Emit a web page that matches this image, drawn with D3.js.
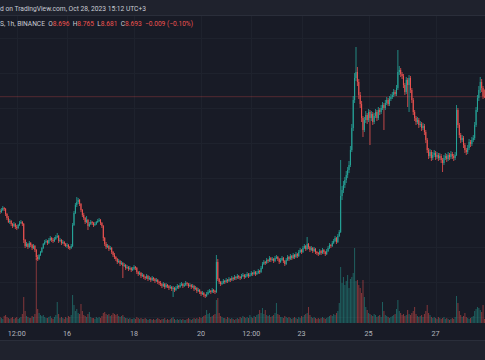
<!DOCTYPE html>
<html><head><meta charset="utf-8">
<script src="https://cdn.jsdelivr.net/npm/d3@7"></script>
<style>html,body{margin:0;padding:0;background:#191c27;overflow:hidden}svg{display:block}</style>
</head><body>
<svg id="chart" width="485" height="360"></svg>
<script>
// ---------- data (hourly bars, Oct 14 2023 00:00 onward) ----------
const startTime = "2023-10-14T00:00:00Z";
const firstOpen = 7.55;
const closes = [
7.54,7.56,7.58,7.57,7.52,7.48,7.44,7.45,7.42,7.40,
7.42,7.39,7.38,7.41,7.43,7.44,7.42,7.26,7.20,7.22,
7.19,7.23,7.21,7.18,7.20,7.16,7.09,7.07,7.11,7.14,
7.18,7.22,7.24,7.25,7.23,7.26,7.28,7.26,7.25,7.27,
7.29,7.30,7.25,7.26,7.23,7.24,7.22,7.20,7.21,7.19,
7.18,7.20,7.41,7.53,7.61,7.64,7.66,7.62,7.56,7.51,
7.48,7.44,7.46,7.40,7.42,7.44,7.43,7.41,7.42,7.44,
7.45,7.46,7.43,7.40,7.28,7.22,7.19,7.20,7.17,7.18,
7.14,7.11,7.09,7.07,7.04,7.05,7.02,7.03,7.00,7.01,
6.98,6.99,6.97,6.98,6.96,6.97,6.99,6.98,6.94,6.92,
6.93,6.90,6.91,6.89,6.88,6.90,6.87,6.88,6.86,6.88,
6.87,6.85,6.86,6.84,6.83,6.82,6.80,6.82,6.79,6.81,
6.80,6.78,6.79,6.77,6.78,6.76,6.78,6.80,6.79,6.81,
6.82,6.80,6.81,6.83,6.82,6.80,6.81,6.79,6.80,6.77,
6.78,6.75,6.76,6.74,6.72,6.73,6.71,6.70,6.72,6.74,
6.75,6.74,6.76,6.75,6.74,7.04,6.87,6.84,6.82,6.83,
6.85,6.84,6.86,6.85,6.87,6.86,6.88,6.87,6.89,6.88,
6.90,6.89,6.88,6.90,6.91,6.89,6.90,6.92,6.90,6.91,
6.93,6.92,6.94,6.92,6.93,6.95,6.94,6.98,7.02,7.04,
7.03,7.06,7.05,7.08,7.06,7.07,7.05,7.08,7.09,7.07,
7.04,7.06,7.08,7.05,7.02,7.06,7.09,7.07,7.10,7.08,
7.11,7.09,7.12,7.10,7.14,7.16,7.14,7.18,7.20,7.17,
7.22,7.19,7.16,7.18,7.15,7.17,7.14,7.13,7.12,7.15,
7.13,7.16,7.14,7.12,7.15,7.18,7.21,7.20,7.23,7.25,
7.28,7.24,7.30,7.34,7.70,7.76,7.81,7.86,7.91,7.96,
8.01,8.16,8.38,8.66,8.88,8.94,8.84,8.71,8.62,8.48,
8.36,8.46,8.51,8.46,8.54,8.48,8.52,8.44,8.50,8.54,
8.48,8.56,8.54,8.58,8.61,8.58,8.63,8.66,8.62,8.67,
8.69,8.71,8.74,8.72,8.78,8.94,8.96,8.92,8.90,8.81,
8.74,8.86,8.81,8.88,8.76,8.66,8.54,8.48,8.44,8.46,
8.41,8.42,8.38,8.40,8.34,8.26,8.16,8.10,8.14,8.08,
8.11,8.13,8.09,8.11,8.08,8.10,8.06,8.03,8.08,8.10,
8.07,8.11,8.09,8.12,8.10,8.08,8.11,8.56,8.41,8.31,
8.26,8.28,8.21,8.16,8.14,8.18,8.24,8.22,8.26,8.28,
8.41,8.56,8.68,8.76,8.84,8.78,8.696,8.693];
const highs = [
7.57,7.58,7.60,7.59,7.58,7.53,7.50,7.47,7.46,7.43,
7.44,7.43,7.41,7.42,7.45,7.46,7.45,7.43,7.27,7.24,
7.23,7.25,7.24,7.22,7.22,7.21,7.17,7.11,7.12,7.15,
7.19,7.23,7.26,7.27,7.26,7.28,7.30,7.29,7.28,7.29,
7.31,7.33,7.31,7.28,7.27,7.26,7.25,7.23,7.23,7.22,
7.20,7.22,7.43,7.55,7.63,7.69,7.68,7.67,7.63,7.57,
7.53,7.49,7.50,7.47,7.44,7.46,7.45,7.44,7.44,7.45,
7.47,7.48,7.47,7.44,7.41,7.29,7.24,7.22,7.21,7.20,
7.19,7.15,7.13,7.10,7.08,7.07,7.06,7.05,7.04,7.03,
7.02,7.01,7.00,7.00,6.99,6.99,7.01,7.00,6.99,6.95,
6.95,6.94,6.93,6.92,6.90,6.92,6.91,6.90,6.89,6.90,
6.89,6.88,6.88,6.87,6.85,6.85,6.83,6.84,6.83,6.83,
6.82,6.81,6.81,6.80,6.80,6.79,6.80,6.82,6.81,6.83,
6.84,6.83,6.83,6.85,6.84,6.83,6.83,6.82,6.82,6.81,
6.80,6.79,6.78,6.77,6.75,6.75,6.74,6.72,6.74,6.76,
6.77,6.76,6.78,6.77,6.76,7.11,7.07,6.88,6.85,6.85,
6.87,6.86,6.88,6.87,6.89,6.88,6.90,6.89,6.91,6.90,
6.92,6.91,6.90,6.92,6.93,6.92,6.92,6.94,6.93,6.93,
6.95,6.94,6.96,6.95,6.95,6.97,6.96,7.00,7.04,7.06,
7.05,7.08,7.07,7.10,7.09,7.09,7.08,7.10,7.11,7.10,
7.08,7.08,7.10,7.09,7.06,7.08,7.11,7.10,7.12,7.11,
7.13,7.12,7.14,7.13,7.16,7.18,7.17,7.20,7.22,7.21,
7.29,7.23,7.20,7.20,7.19,7.19,7.18,7.15,7.14,7.17,
7.16,7.18,7.17,7.15,7.17,7.20,7.23,7.22,7.25,7.27,
7.30,7.29,7.32,7.36,8.06,7.80,7.85,7.89,7.95,7.99,
8.05,8.20,8.42,8.70,8.93,9.19,8.99,8.87,8.74,8.65,
8.50,8.49,8.55,8.53,8.57,8.56,8.55,8.54,8.53,8.57,
8.56,8.59,8.58,8.61,8.64,8.63,8.66,8.69,8.68,8.70,
8.72,8.74,8.77,8.76,8.81,9.16,9.00,8.98,8.94,8.92,
8.83,8.89,8.88,8.91,8.90,8.78,8.68,8.56,8.50,8.49,
8.48,8.45,8.44,8.43,8.42,8.36,8.28,8.18,8.17,8.16,
8.14,8.16,8.15,8.14,8.13,8.13,8.12,8.08,8.11,8.13,
8.12,8.14,8.13,8.15,8.14,8.12,8.14,8.61,8.58,8.43,
8.33,8.31,8.30,8.23,8.18,8.21,8.27,8.26,8.29,8.31,
8.44,8.59,8.71,8.80,8.89,8.87,8.80,8.765];
const lows = [
7.52,7.53,7.55,7.55,7.50,7.46,7.43,7.42,7.40,7.38,
7.39,7.37,7.36,7.37,7.40,7.42,7.40,7.23,7.18,7.19,
7.17,7.18,7.19,7.16,7.17,7.14,7.06,7.05,7.06,7.10,
7.13,7.17,7.21,7.23,7.21,7.22,7.25,7.24,7.23,7.24,
7.26,7.28,7.23,7.24,7.21,7.22,7.20,7.19,7.18,7.17,
7.16,7.17,7.19,7.40,7.52,7.59,7.62,7.60,7.54,7.49,
7.46,7.42,7.43,7.36,7.39,7.41,7.41,7.39,7.40,7.41,
7.43,7.44,7.41,7.38,7.25,7.20,7.17,7.18,7.15,7.16,
7.12,7.09,7.07,7.05,7.02,7.03,7.00,7.01,6.88,6.99,
6.96,6.97,6.95,6.96,6.94,6.95,6.96,6.96,6.92,6.90,
6.91,6.88,6.89,6.87,6.86,6.87,6.85,6.86,6.84,6.85,
6.85,6.83,6.84,6.82,6.81,6.80,6.78,6.79,6.77,6.78,
6.78,6.76,6.77,6.75,6.69,6.74,6.75,6.77,6.77,6.78,
6.80,6.78,6.79,6.80,6.80,6.78,6.79,6.77,6.78,6.75,
6.76,6.73,6.74,6.72,6.70,6.71,6.69,6.68,6.69,6.71,
6.73,6.72,6.73,6.73,6.72,6.73,6.85,6.82,6.80,6.81,
6.82,6.82,6.83,6.83,6.84,6.84,6.85,6.85,6.86,6.86,
6.87,6.87,6.86,6.87,6.89,6.87,6.88,6.89,6.88,6.89,
6.90,6.90,6.91,6.90,6.91,6.92,6.92,6.93,6.97,7.01,
7.01,7.02,7.03,7.04,7.04,7.05,7.03,7.04,7.07,7.05,
7.02,7.03,7.05,7.03,7.00,7.01,7.05,7.05,7.06,7.06,
7.07,7.07,7.08,7.08,7.09,7.13,7.12,7.13,7.17,7.15,
7.16,7.17,7.14,7.15,7.13,7.14,7.12,7.11,7.10,7.11,
7.11,7.12,7.12,7.10,7.11,7.14,7.17,7.18,7.19,7.22,
7.24,7.22,7.23,7.29,7.33,7.66,7.73,7.78,7.83,7.88,
7.93,7.99,8.14,8.35,8.63,8.85,8.80,8.67,8.58,8.44,
8.29,8.34,8.43,8.42,8.44,8.21,8.45,8.41,8.42,8.48,
8.45,8.46,8.51,8.52,8.56,8.36,8.56,8.61,8.60,8.60,
8.65,8.67,8.69,8.70,8.70,8.76,8.91,8.89,8.87,8.78,
8.71,8.72,8.59,8.54,8.73,8.63,8.51,8.45,8.41,8.42,
8.38,8.39,8.35,8.36,8.31,8.23,8.13,8.07,8.08,8.05,
8.06,8.09,8.06,8.07,8.05,8.06,8.03,7.94,8.01,8.06,
8.04,8.05,8.06,8.07,8.07,8.05,8.06,8.10,8.38,8.28,
8.23,8.24,8.18,8.13,8.11,8.12,8.16,8.19,8.20,8.24,
8.26,8.39,8.54,8.65,8.73,8.74,8.67,8.681];
// volume, thousands of units
const volumes = [
6,5,4,7,8,6,5,4,5,6, 4,5,6,4,5,6,9,26,12,7,
6,5,5,7,6,9,65,14,10,8, 7,8,6,5,5,6,7,5,4,6,
8,21,9,5,6,5,4,6,5,7, 6,8,28,18,12,14,10,9,19,12,
8,7,6,9,11,6,5,5,4,6, 5,6,5,7,10,11,9,8,9,7,
8,10,9,8,9,7,6,7,8,6, 5,5,4,5,4,4,5,4,6,5,
4,5,4,4,5,4,3,4,4,3, 4,3,4,5,4,3,4,4,5,3,
4,3,4,5,6,4,3,4,3,4, 3,4,3,3,4,5,4,3,4,5,
4,5,4,6,5,6,7,8,13,9, 10,6,7,8,9,23,25,10,7,6,
5,5,4,6,5,4,5,4,3,4, 5,4,6,5,7,6,5,6,5,8,
6,5,7,6,8,9,13,10,15,9, 13,8,7,8,6,7,8,10,20,9,
8,6,6,5,7,6,5,6,5,4, 5,6,5,4,6,5,7,6,8,9,
10,16,8,6,5,6,5,4,5,4, 5,6,5,4,5,6,7,8,7,9,
8,10,12,20,56,40,46,38,42,48, 35,44,46,50,75,42,43,38,35,30,
43,26,16,13,10,9,8,7,9,8, 6,7,8,6,21,12,8,7,6,5,
6,7,8,9,14,23,12,10,8,9, 7,8,13,9,8,10,12,16,9,7,
6,7,8,6,9,12,18,10,8,6, 5,6,5,4,6,5,4,5,6,4,
5,4,3,4,5,4,6,27,20,12, 8,6,7,10,6,5,4,5,6,7,
12,14,16,15,13,11,18,4];
const tickDates = ["2023-10-14T12:00:00Z","2023-10-16T00:00:00Z","2023-10-18T00:00:00Z","2023-10-20T00:00:00Z",
                   "2023-10-21T12:00:00Z","2023-10-23T00:00:00Z","2023-10-25T00:00:00Z","2023-10-27T00:00:00Z"];
const tickLabels = ["12:00","16","18","20","12:00","23","25","27"];
const gridPrices = [9.28,8.93,8.58,8.23,7.88,7.54,7.19,6.84,6.49];
const headerText = "d on TradingView.com, Oct 28, 2023 15:12 UTC+3";
const symbolText = "S, 1h, BINANCE";
const ohlcLabels = ["O","H","L","C"];
const ohlcValues = ["8.696","8.765","8.681","8.693"];
const changeText = "\u22120.009 (\u22120.10%)";
const lastPrice = 8.693;

// ---------- drawing ----------
const W = 485, H = 360;
const upColor = "#26a69a", downColor = "#ef5350";
const svg = d3.select("#chart");
const HOUR = 3600e3;
const t0 = new Date(startTime);
const times = closes.map((_, i) => new Date(t0.getTime() + i * HOUR));
const opens = closes.map((c, i) => i === 0 ? firstOpen : closes[i - 1]);

const x = d3.scaleUtc().domain([t0, new Date(t0.getTime() + 347.4 * HOUR)]).range([0, W]);
const y = d3.scaleLinear().domain([9.66, 6.44]).range([0, 322]);
const yVol = d3.scaleLinear().domain([0, 75]).range([323, 248]);

// backgrounds
svg.append("rect").attr("width", W).attr("height", H).attr("fill", "#181b26");
svg.append("rect").attr("width", W).attr("height", 15).attr("fill", "#1f222d");
svg.append("line").attr("x1", 0).attr("x2", W).attr("y1", 15.5).attr("y2", 15.5).attr("stroke", "#2a2e3a");

const plot = svg.append("g");
const clip = svg.append("clipPath").attr("id", "pc");
clip.append("rect").attr("x", 0).attr("y", 16).attr("width", W).attr("height", 308);
plot.attr("clip-path", "url(#pc)");

// grid
plot.append("g").selectAll("line").data(gridPrices).join("line")
  .attr("x1", 0).attr("x2", W)
  .attr("y1", d => Math.round(y(d)) + 0.5).attr("y2", d => Math.round(y(d)) + 0.5)
  .attr("stroke", "#1e222d").attr("stroke-width", 1);
const tickTimes = tickDates.map(d => new Date(d));
plot.append("g").selectAll("line").data(tickTimes).join("line")
  .attr("x1", d => Math.round(x(d)) + 0.5).attr("x2", d => Math.round(x(d)) + 0.5)
  .attr("y1", 16).attr("y2", 324)
  .attr("stroke", "#1e222d").attr("stroke-width", 1);

// volume
plot.append("g").selectAll("rect").data(volumes).join("rect")
  .attr("x", (d, i) => x(times[i]) - 0.5)
  .attr("width", 1)
  .attr("y", d => yVol(d))
  .attr("height", d => yVol(0) - yVol(d))
  .attr("fill", (d, i) => closes[i] >= opens[i] ? upColor : downColor)
  .attr("fill-opacity", 0.5);

// last-price line
plot.append("line").attr("x1", 0).attr("x2", W)
  .attr("y1", y(lastPrice)).attr("y2", y(lastPrice))
  .attr("stroke", downColor).attr("stroke-opacity", 0.28)
  .attr("stroke-width", 1);

// candles
const cg = plot.append("g");
closes.forEach((c, i) => {
  const o = opens[i];
  const col = c >= o ? upColor : downColor;
  const cx = x(times[i]);
  cg.append("line").attr("x1", cx).attr("x2", cx)
    .attr("y1", y(highs[i])).attr("y2", y(lows[i]))
    .attr("stroke", col).attr("stroke-width", 0.8);
  const top = y(Math.max(o, c)), bot = y(Math.min(o, c));
  cg.append("rect").attr("x", cx - 0.5).attr("width", 1)
    .attr("y", top).attr("height", Math.max(1, bot - top))
    .attr("fill", col);
});

// time axis
svg.append("g").selectAll("text").data(tickTimes).join("text")
  .attr("x", d => x(d)).attr("y", 335.5)
  .attr("text-anchor", "middle")
  .attr("font-family", "Roboto, 'Open Sans', sans-serif")
  .attr("font-size", 7.2).attr("fill", "#b2b5be")
  .text((d, i) => tickLabels[i]);

// bottom strip
svg.append("rect").attr("x", 0).attr("y", 340).attr("width", W).attr("height", 20).attr("fill", "#1f222d");
svg.append("line").attr("x1", 0).attr("x2", W).attr("y1", 340.5).attr("y2", 340.5).attr("stroke", "#2a2e3a");

// header text
svg.append("text").attr("x", 0).attr("y", 10.5)
  .attr("font-family", "Roboto, 'Open Sans', sans-serif").attr("font-size", 7.4)
  .attr("fill", "#c9ccd4").attr("textLength", 146).attr("lengthAdjust", "spacingAndGlyphs")
  .text(headerText);

// legend
const lg = svg.append("text").attr("x", 0).attr("y", 26)
  .attr("font-family", "Roboto, 'Open Sans', sans-serif").attr("font-size", 7)
  .attr("fill", "#c9ccd4").attr("textLength", 193).attr("lengthAdjust", "spacingAndGlyphs");
lg.append("tspan").text(symbolText);
ohlcLabels.forEach((l, i) => {
  lg.append("tspan").attr("dx", 3.5).attr("fill", "#c9ccd4").text(l);
  lg.append("tspan").attr("fill", downColor).text(ohlcValues[i]);
});
lg.append("tspan").attr("dx", 3.5).attr("fill", downColor).text(changeText);
</script>
</body></html>
